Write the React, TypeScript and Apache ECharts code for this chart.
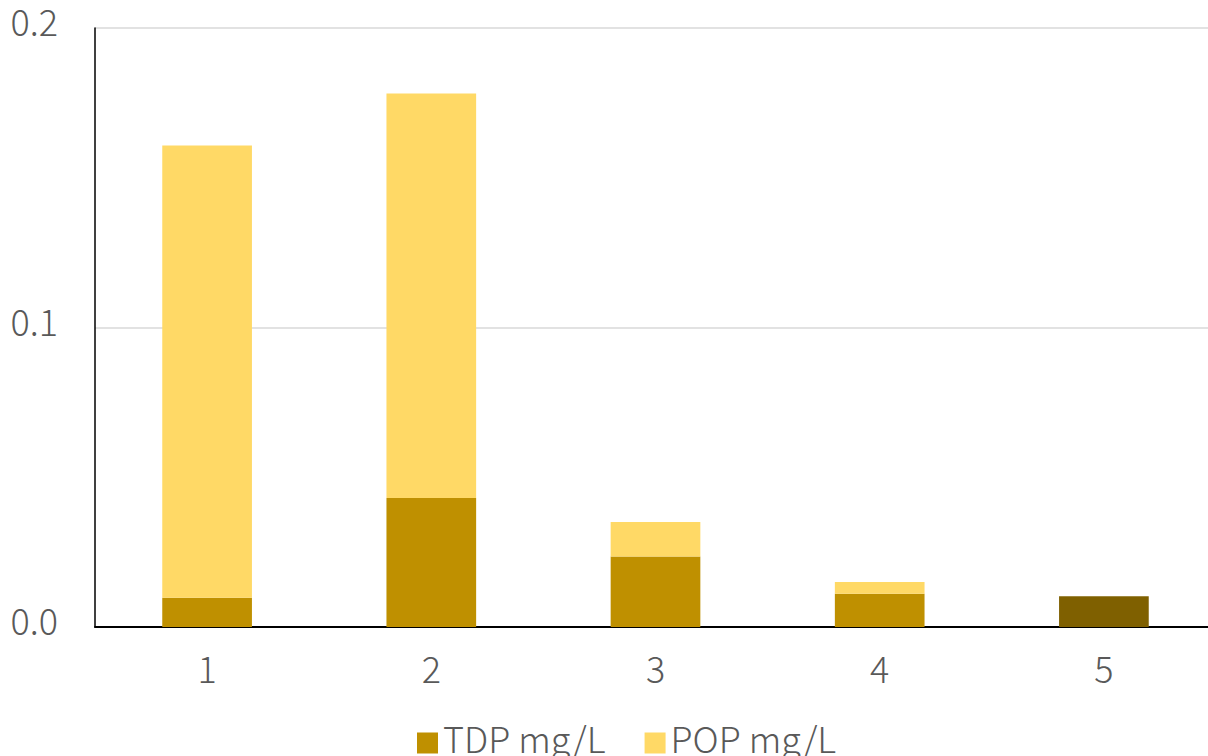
import React, { useEffect, useRef } from "react";
import * as echarts from "echarts";

const categories = ["1", "2", "3", "4", "5"];
const tdpValues = [0.0098, 0.0431, 0.0235, 0.0111, 0.0103];
const popValues = [0.151, 0.135, 0.0116, 0.0039, 0];
const yTicks = { min: 0, max: 0.2, interval: 0.1 };

const FONT = "'Noto Sans CJK JP', 'Noto Sans', sans-serif";
const TEXT = "#595959";
const FS = 36;

export default function App() {
  const ref = useRef<HTMLDivElement>(null);
  useEffect(() => {
    if (!ref.current) return;
    const chart = echarts.init(ref.current, undefined, { renderer: "svg" });
    chart.setOption({
      animation: false,
      backgroundColor: "#ffffff",
      textStyle: { fontFamily: FONT, fontWeight: 300 },
      grid: { left: 95, right: 0, top: 28, bottom: 129, containLabel: false },
      legend: {
        left: 412,
        top: 714,
        itemWidth: 21,
        itemHeight: 33,
        itemGap: 39,
        icon: "path://M0,0L21,0L0,0ZM0,12L21,12L21,33L0,33Z",
        textStyle: { fontFamily: FONT, fontSize: FS, fontWeight: 300, color: TEXT },
        data: ["TDP mg/L", "POP mg/L"],
      },
      xAxis: {
        type: "category",
        data: categories,
        axisLine: { show: true, lineStyle: { color: "#000000", width: 2 } },
        axisTick: { show: false },
        axisLabel: { color: TEXT, fontSize: FS, fontWeight: 300, fontFamily: FONT, margin: 22 },
      },
      yAxis: {
        type: "value",
        min: yTicks.min,
        max: yTicks.max,
        interval: yTicks.interval,
        axisLine: { show: true, lineStyle: { color: "#000000", width: 1.5 } },
        axisTick: { show: false },
        splitLine: { show: true, lineStyle: { color: "#d9d9d9", width: 1.5 } },
        axisLabel: {
          color: TEXT,
          fontSize: FS,
          fontWeight: 300,
          fontFamily: FONT,
          margin: 37,
          verticalAlign: "bottom",
          lineHeight: 16,
          formatter: (v: number) => v.toFixed(1),
        },
      },
      series: [
        {
          name: "TDP mg/L",
          type: "bar",
          stack: "total",
          barWidth: "40%",
          itemStyle: { color: "#BF9000" },
          data: tdpValues.map((v, i) =>
            i === 4 ? { value: v, itemStyle: { color: "#7F6000" } } : v
          ),
        },
        {
          name: "POP mg/L",
          type: "bar",
          stack: "total",
          barWidth: "40%",
          itemStyle: { color: "#FFD966" },
          data: popValues,
        },
      ],
    });
    return () => chart.dispose();
  }, []);
  return (
    <div
      ref={ref}
      style={{ position: "fixed", left: 0, top: 0, width: 1216, height: 756 }}
    />
  );
}
